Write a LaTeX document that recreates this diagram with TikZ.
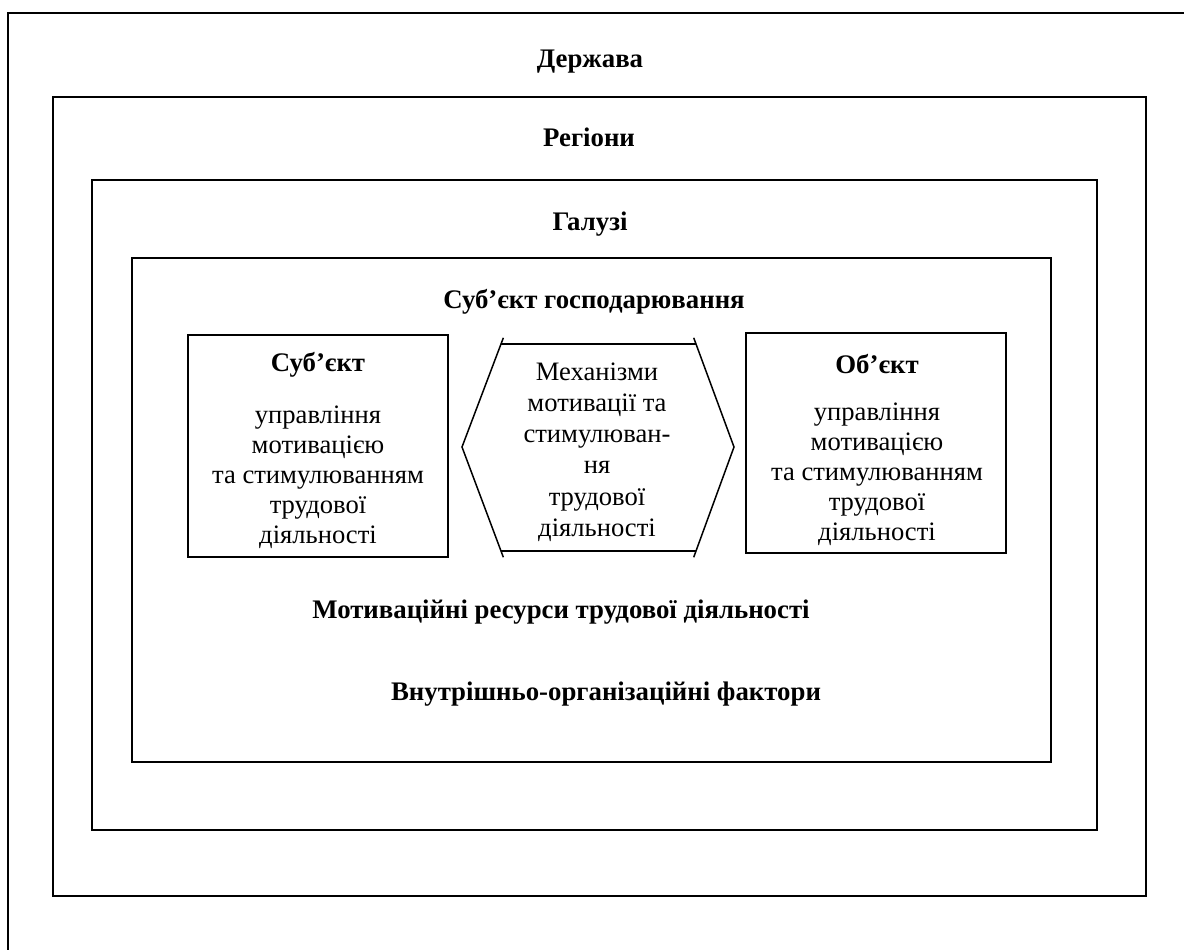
\documentclass[tikz,border=0pt]{standalone}
\usepackage{fontspec}
\setmainfont{Liberation Serif}
\usetikzlibrary{calc}
\begin{document}
\begin{tikzpicture}[x=1pt,y=-1pt,
  frame/.style={draw=black,line width=1.8pt},
  hexline/.style={draw=black,line width=1.5pt},
  title/.style={font=\fontsize{26.8}{31}\selectfont\bfseries, inner sep=0pt, anchor=center},
  body/.style={font=\fontsize{26.6}{30}\selectfont, align=center, inner sep=0pt, anchor=center},
  hexbody/.style={font=\fontsize{26.6}{31.2}\selectfont, align=center, inner sep=0pt, anchor=center}]
\useasboundingbox (0,0) rectangle (1184,950);
% frames
\draw[frame] (8,952) -- (8,13) -- (1186,13);
\draw[frame] (53,97) rectangle (1146,896);
\draw[frame] (92,180) rectangle (1097,830);
\draw[frame] (132,258) rectangle (1051,762);
\draw[frame] (188,335) rectangle (448,557);
\draw[frame] (746,333) rectangle (1006,553);
% hexagon
\coordinate (hl) at (462,447);
\coordinate (htl) at (501,344);
\coordinate (htr) at (696,344);
\coordinate (hr) at (734,447);
\coordinate (hbr) at (696,551);
\coordinate (hbl) at (501,551);
\draw[hexline] (htl) -- (htr) (hbl) -- (hbr);
\draw[hexline] ($(hl)!1.06!(htl)$) -- (hl) -- ($(hl)!1.06!(hbl)$);
\draw[hexline] ($(hr)!1.06!(htr)$) -- (hr) -- ($(hr)!1.06!(hbr)$);
% titles
\node[title] (t1) at (590,62) {Держава};
\node[title] (t2) at (589,137) {Регіони};
\node[title] (t3) at (590,224) {Галузі};
\node[title] (t4) at (594,302) {Суб’єкт господарювання};
\node[title] (t5) at (561,612) {Мотиваційні ресурси трудової діяльності};
\node[title] (t6) at (606,694) {Внутрішньо-організаційні фактори};
% boxes content
\node[title] (s1) at (318,365) {Суб’єкт};
\node[body] (s2) at (318,477) {управління\\мотивацією\\та стимулюванням\\трудової\\діяльності};
\node[title] (o1) at (877,364) {Об’єкт};
\node[body] (o2) at (877,474) {управління\\мотивацією\\та стимулюванням\\трудової\\діяльності};
\node[hexbody] (m) at (597,452) {Механізми\\мотивації та\\стимулюван-\\ня\\трудової\\діяльності};
\end{tikzpicture}
\end{document}
